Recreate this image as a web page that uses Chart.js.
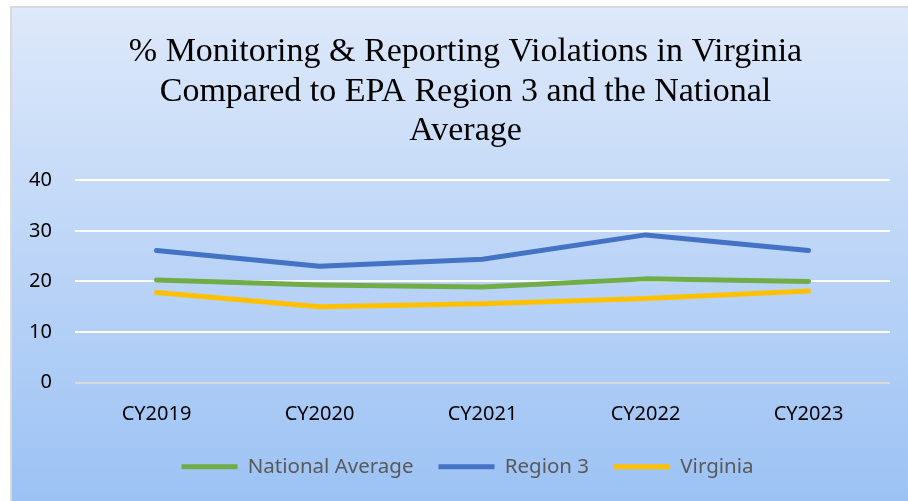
<!DOCTYPE html>
<html>
<head>
<meta charset="utf-8">
<script src="https://cdn.jsdelivr.net/npm/chart.js@4/dist/chart.umd.min.js"></script>
<style>
  html, body { margin: 0; padding: 0; background: #fff; }
  canvas { display: block; }
</style>
</head>
<body>
<canvas id="chart" width="908" height="501"></canvas>
<script>
// chart data
const categories = ['CY2019', 'CY2020', 'CY2021', 'CY2022', 'CY2023'];
const nationalAverage = [20.3, 19.3, 18.9, 20.5, 20.0];
const region3 = [26.1, 23.0, 24.4, 29.2, 26.1];
const virginia = [17.8, 15.0, 15.6, 16.6, 18.1];
const yTicks = [0, 10, 20, 30, 40];

const titleLines = [
  '% Monitoring & Reporting Violations in Virginia',
  'Compared to EPA Region 3 and the National',
  'Average',
];

// gradient panel with a grey edge on the left and top
const panelBackground = {
  id: 'panelBackground',
  afterLayout(chart) {
    // title and legend sit a little right of the canvas centre
    if (chart.titleBlock) { chart.titleBlock.left += 6; chart.titleBlock.right += 6; }
    if (chart.legend) { chart.legend.left += 8; chart.legend.right += 8; }
  },
  beforeDraw(chart) {
    const { ctx, width, height } = chart;
    ctx.save();
    ctx.fillStyle = '#ffffff';
    ctx.fillRect(0, 0, width, height);
    const grad = ctx.createLinearGradient(0, 6, 0, height);
    grad.addColorStop(0, '#dee9fa');
    grad.addColorStop(1, '#9cc2f4');
    ctx.fillStyle = grad;
    ctx.fillRect(10, 6, width - 10, height - 6);
    ctx.fillStyle = '#d9d9d9';
    ctx.fillRect(10, 6, 2, height - 6);
    ctx.fillRect(10, 6, width - 10, 2);
    ctx.restore();
  },
};

const line = (label, data, color) => ({
  label,
  data,
  borderColor: color,
  backgroundColor: color,
  borderWidth: 5,
  borderCapStyle: 'round',
  borderJoinStyle: 'round',
  pointRadius: 0,
  pointHoverRadius: 0,
  tension: 0,
});

new Chart(document.getElementById('chart'), {
  type: 'line',
  data: {
    labels: categories,
    datasets: [
      line('National Average', nationalAverage, '#70ad47'),
      line('Region 3', region3, '#4472c4'),
      line('Virginia', virginia, '#ffc000'),
    ],
  },
  options: {
    responsive: false,
    animation: false,
    events: [],
    layout: { padding: { left: 29, right: 18, top: 0, bottom: 14 } },
    plugins: {
      title: {
        display: true,
        text: titleLines,
        color: '#000000',
        font: { family: "'Liberation Serif', 'Times New Roman', serif", size: 34, weight: 'normal', lineHeight: 1.15 },
        padding: { top: 33, bottom: 30 },
      },
      legend: {
        position: 'bottom',
        labels: {
          usePointStyle: true,
          pointStyle: 'line',
          pointStyleWidth: 56,
          padding: 25,
          color: '#595959',
          font: { family: "'Noto Sans', sans-serif", size: 20.5 },
        },
      },
      tooltip: { enabled: false },
    },
    scales: {
      x: {
        offset: true,
        afterFit(scale) { scale.height = 49; },
        grid: { display: false, drawTicks: false },
        border: { display: false },
        ticks: {
          color: '#000000',
          padding: 14,
          font: { family: "'Noto Sans', sans-serif", size: 20, lineHeight: 1.8 },
        },
      },
      y: {
        min: 0,
        max: 40,
        afterBuildTicks(scale) {
          scale.ticks = yTicks.map(v => ({ value: v }));
        },
        afterFit(scale) { scale.width = 46; },
        grid: {
          drawTicks: false,
          lineWidth: 2,
          color: ctx => (ctx.tick && ctx.tick.value === 0 ? '#d9d9d9' : '#ffffff'),
        },
        border: { display: false },
        ticks: {
          color: '#000000',
          padding: 23,
          font: { family: "'Noto Sans', sans-serif", size: 20 },
        },
      },
    },
  },
  plugins: [panelBackground],
});
</script>
</body>
</html>
